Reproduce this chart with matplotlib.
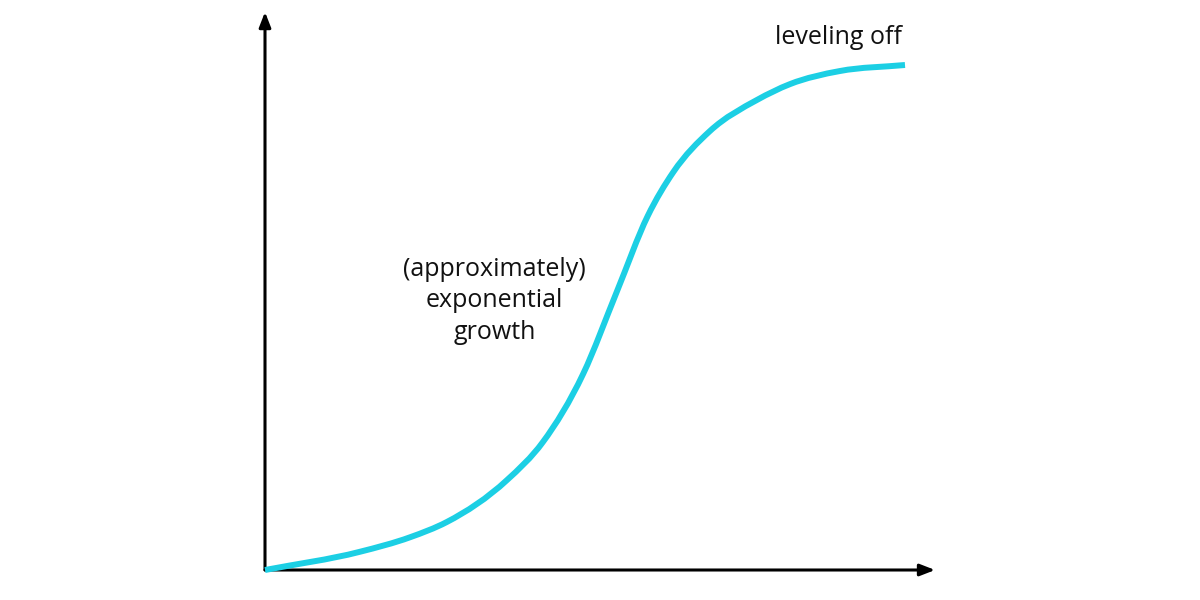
import matplotlib.pyplot as plt
from matplotlib.path import Path
from matplotlib.patches import PathPatch

# curve (x: 0..100, y: 0..100)
x = [0, 14.8, 22.7, 28.4, 37.8, 43.4, 49.7, 55.0, 59.8, 63.8, 69.5, 76.9, 82.0, 89.8, 100]
y = [0, 3.6, 6.5, 9.5, 17.8, 25.3, 38.8, 55.2, 70.1, 78.8, 86.9, 93.1, 96.2, 98.8, 100]

labels = ['leveling off', '(approximately)\nexponential\ngrowth']
label_x = [89.6, 35.9]
label_y = [105.4, 53.3]

plt.rcParams['font.family'] = ['Open Sans', 'DejaVu Sans']

fig = plt.figure(figsize=(12, 6), dpi=100)
ax = fig.add_axes([265 / 1200, 30 / 600, 640 / 1200, 505 / 600])
ax.set_xlim(0, 100)
ax.set_ylim(0, 100)
ax.axis('off')

arrow = dict(arrowstyle='-|>,head_length=0.9,head_width=0.35', color='black',
             lw=2.2, shrinkA=0, shrinkB=0)
ax.annotate('', xy=(104.7, 0), xytext=(0, 0), arrowprops=arrow, annotation_clip=False)
ax.annotate('', xy=(0, 110.5), xytext=(0, 0), arrowprops=arrow, annotation_clip=False)

# smooth path through the read points: cubic hermite pieces drawn as bezier
n = len(x)
h = [x[i + 1] - x[i] for i in range(n - 1)]
d = [(y[i + 1] - y[i]) / h[i] for i in range(n - 1)]
m = [d[0]] + [(d[i - 1] * h[i] + d[i] * h[i - 1]) / (h[i - 1] + h[i])
              for i in range(1, n - 1)] + [d[-1]]
verts = [(x[0], y[0])]
codes = [Path.MOVETO]
for i in range(n - 1):
    verts += [(x[i] + h[i] / 3, y[i] + m[i] * h[i] / 3),
              (x[i + 1] - h[i] / 3, y[i + 1] - m[i + 1] * h[i] / 3),
              (x[i + 1], y[i + 1])]
    codes += [Path.CURVE4] * 3
curve = PathPatch(Path(verts, codes), facecolor='none', edgecolor='#1ccfe4',
                  lw=4.3, capstyle='butt', clip_on=False, zorder=3)
ax.add_patch(curve)

for text, tx, ty in zip(labels, label_x, label_y):
    ax.text(tx, ty, text, ha='center', va='center', fontsize=18,
            color='#111111', linespacing=1.35)

fig.savefig('out.png', dpi=100)
